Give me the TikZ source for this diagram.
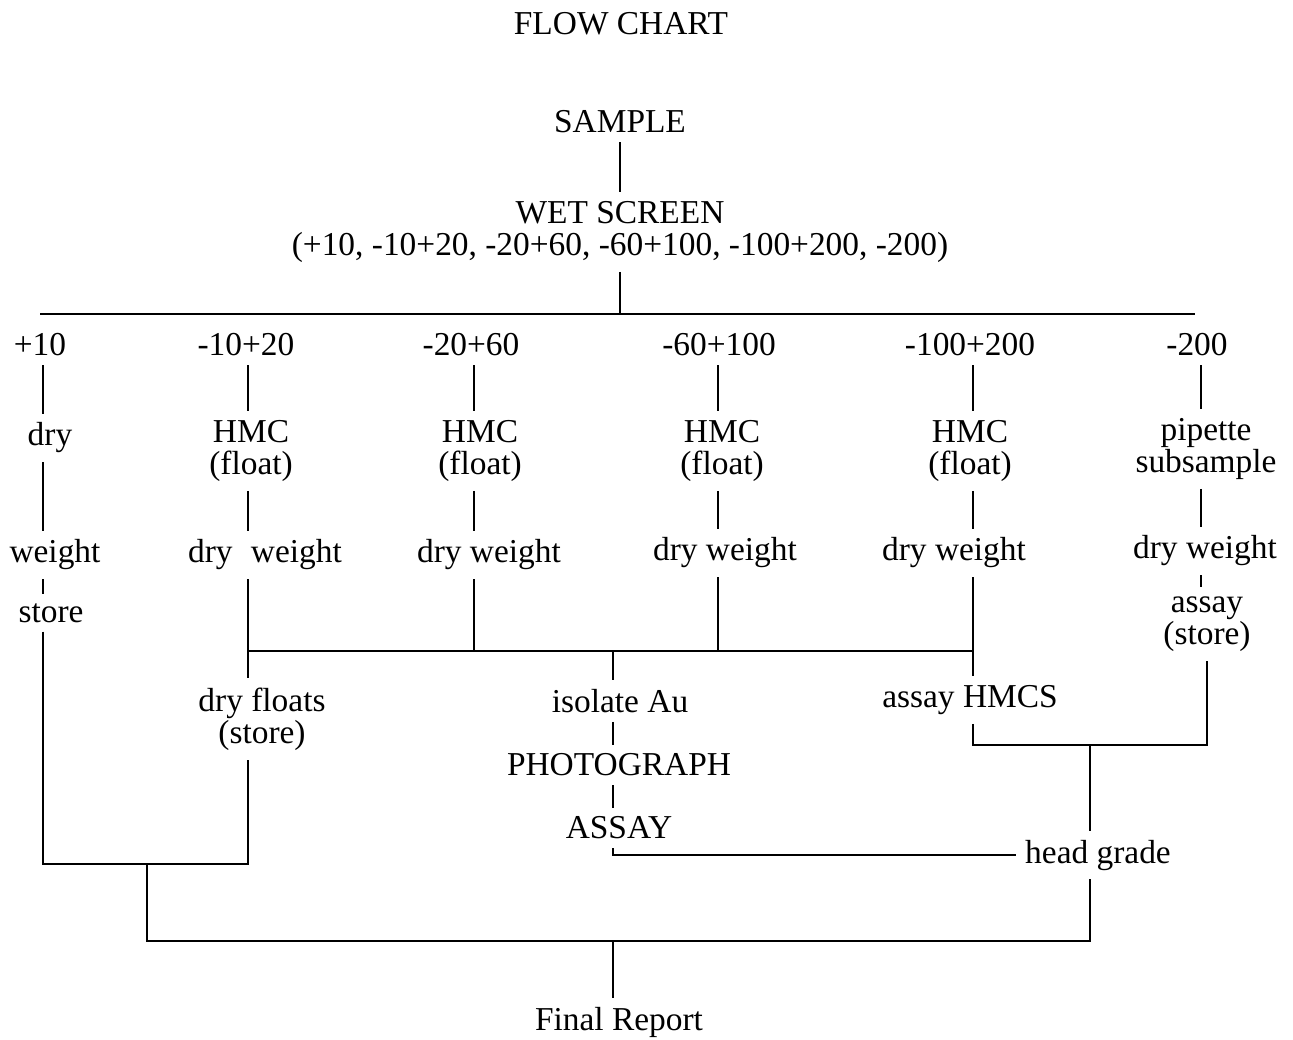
\documentclass[tikz,border=0pt]{standalone}
\usepackage{fontspec}
\setmainfont{Liberation Serif}
\usetikzlibrary{positioning,calc}

\begin{document}
\begin{tikzpicture}[x=0.5pt,y=-0.5pt,line width=1.1pt,
  every node/.style={font=\fontsize{16.7}{16.2}\selectfont,align=center,inner sep=4pt}]
 \useasboundingbox (0,0) rectangle (1293,1039);
 % column positions on the screen bar
 \coordinate (c1) at (43,314);
 \coordinate (c2) at (248,314);
 \coordinate (c3) at (474,314);
 \coordinate (c4) at (718,314);
 \coordinate (c5) at (973,314);
 \coordinate (c6) at (1201,314);
 \coordinate (m) at (613,651);
 \coordinate (jh) at (1090,745);
 \coordinate (jl) at (147,864);
 \coordinate (jb) at (613,941);
 \node (title) at (621,24) {FLOW CHART};
 \node (sample) at (620,122) {SAMPLE};
 \node (wet) at (620,232) {WET SCREEN\\(+10, -10+20, -20+60, -60+100, -100+200, -200)};
 \foreach \n/\x/\t in {1/40/+10,2/246/-10+20,3/471/-20+60,4/719/-60+100,5/970/-100+200,6/1197/-200}
  \node (s\n) at (\x,345) {\t};
 % first column
 \node (dry1) at (50,438) {dry};
 \node (wt1) at (55,555) {weight};
 \node (st1) at (51,613) {store};
 % heavy mineral columns
 \foreach \n/\x in {2/251,3/480,4/722,5/970}
  \node (h\n) at (\x,451) {HMC\\(float)};
 \node (d2) at (265,555) {dry\hspace{0.55em}weight};
 \node (d3) at (489,555) {dry weight};
 \node (d4) at (725,553) {dry weight};
 \node (d5) at (954,553) {dry weight};
 \node (f2) at (262,719) {dry floats\\(store)};
 \node (a5) at (970,700) {assay HMCS};
 % fine column
 \node (p6) at (1206,449) {pipette\\subsample};
 \node (d6) at (1205,551) {dry weight};
 \node (as6) at (1207,624) {assay\\(store)};
 % gold
 \node (iso) at (620,701) {isolate Au};
 \node (photo) at (619,765) {PHOTOGRAPH};
 \node (assay) at (619,828) {ASSAY};
 \node (head) at (1098,855) {head grade};
 \node (final) at (619,1022) {Final Report};
 % connectors
 \draw (sample) -- (wet);
 \draw (wet.south) -- (wet.south |- c1);
 \draw (40,314) -- (1195,314);
 \draw (s1.south -| c1) -- (dry1.north -| c1);
 \draw (dry1.south -| c1) -- (wt1.north -| c1);
 \draw (wt1.south -| c1) -- (st1.north -| c1);
 \foreach \n in {2,...,5} {
  \draw (s\n.south -| c\n) -- (h\n.north -| c\n);
  \draw (h\n.south -| c\n) -- (d\n.north -| c\n);
 }
 \draw (s6.south -| c6) -- (p6.north -| c6);
 \draw (p6.south -| c6) -- (d6.north -| c6);
 \draw (d6.south -| c6) -- (as6.north -| c6);
 \draw (m -| c2) -- (m -| c5);
 \draw (d2.south -| c2) -- (f2.north -| c2);
 \draw (d3.south -| c3) -- (m -| c3);
 \draw (d4.south -| c4) -- (m -| c4);
 \draw (d5.south -| c5) -- (a5.north -| c5);
 \draw (m) -- (iso.north -| m);
 \draw (iso.south -| m) -- (photo.north -| m);
 \draw (photo.south -| m) -- (assay.north -| m);
 \draw (assay.south -| m) |- (head.west);
 \draw (a5.south -| c5) |- (jh) -| (as6.south);
 \draw (jh) -- (head.north -| jh);
 \draw (st1.south -| c1) |- (jl) -| (f2.south -| c2);
 \draw (jl) |- (jb) -| (head.south -| jh);
 \draw (jb) -- (final.north -| jb);
\end{tikzpicture}
\end{document}
